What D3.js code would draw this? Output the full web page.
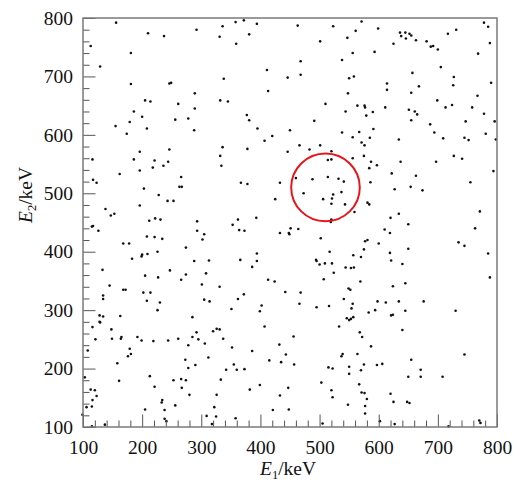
<!DOCTYPE html>
<html><head><meta charset="utf-8">
<script src="https://cdn.jsdelivr.net/npm/d3@7"></script>
<style>
body{margin:0;background:#fff}
svg{display:block;font-family:"Liberation Serif","Times New Roman",Times,serif}
text{font-family:"Liberation Serif","Times New Roman",Times,serif;fill:#111}
</style>
</head><body>
<svg id="chart" width="513" height="482"></svg>
<script>
// E1 (keV), E2 (keV) coincidence events
const hits = [
[156,792],[210,774],[237,769],[292,780],[113,752],[181,740],[129,717],[181,687],[246,688],[249,689],[289,671],[205,659],[214,657],[261,653],[289,645],[186,640],[200,631],[256,626],[278,628],[179,622],[155,615],[208,611],[288,608],[174,602],[196,571],[246,575],
[336,786],[358,793],[372,796],[394,790],[463,787],[523,786],[561,778],[331,768],[381,772],[359,756],[501,760],[547,766],[556,740],[538,728],[468,726],[411,711],[338,696],[446,698],[468,703],[550,697],[558,700],[413,675],[548,671],[332,659],[345,657],[510,653],[564,650],[544,640],[377,634],[381,625],[491,624],[395,611],[450,608],[538,604],[420,598],[407,590],[556,596],[336,579],[378,576],[466,582],[501,582],[446,571],[483,575],[520,572],
[571,794],[599,782],[636,775],[645,775],[652,773],[655,770],[638,769],[646,765],[663,762],[681,760],[717,773],[731,780],[778,792],[785,785],[788,757],[625,756],[688,751],[692,752],[700,746],[593,742],[768,739],[705,716],[657,706],[727,699],[614,688],[668,683],[726,685],[790,689],[614,677],[655,672],[767,667],[576,650],[577,647],[611,647],[699,659],[713,647],[724,651],[758,647],[651,643],[661,640],[665,635],[590,639],[579,633],[778,636],[655,625],[747,623],[796,623],[687,618],[591,610],[567,605],[694,604],[781,602],[585,595],[634,592],[709,594],[745,595],[752,591],[798,592],[571,587],[576,582],
[116,558],[186,558],[221,556],[244,554],[196,539],[218,544],[236,547],[162,533],[266,528],[117,523],[123,518],[203,508],[263,511],[267,511],[228,497],[243,487],[253,487],[196,479],[138,473],[147,462],[153,465],[212,453],[222,457],[231,455],[293,452],[115,443],[117,444],[126,436],[293,436],[305,430],[302,421],[208,426],[221,425],[234,422],[168,414],[178,414],[274,407],[226,400],[209,396],[200,395],[199,392],[183,388],[288,384],[313,385],[133,369],[247,368],[205,359],[227,356],[274,361],[308,363],[266,352],[145,342],[168,335],[172,335],[301,344],
[332,564],[334,547],[514,557],[520,558],[556,560],[460,526],[488,524],[514,528],[532,525],[541,520],[367,518],[378,516],[433,518],[473,500],[537,502],[523,498],[506,490],[521,491],[425,490],[520,482],[543,481],[559,468],[520,455],[519,451],[393,458],[362,455],[353,446],[364,437],[373,436],[451,440],[464,439],[433,432],[448,432],[449,430],[502,423],[517,400],[557,394],[394,397],[366,386],[394,384],[386,374],[494,386],[495,384],[500,378],[509,380],[521,380],[544,373],[553,372],[558,373],[524,364],[507,353],[413,352],[424,349],[331,340],[549,337],[552,335],
[575,564],[587,554],[597,548],[584,543],[637,554],[697,554],[727,564],[741,559],[794,538],[622,534],[663,530],[586,519],[654,511],[627,507],[674,505],[755,519],[581,484],[584,481],[771,469],[634,465],[620,458],[650,447],[610,438],[619,432],[763,440],[577,418],[581,420],[600,414],[735,416],[745,410],[575,404],[650,405],[570,391],[619,398],[785,397],[621,385],[640,379],[788,356],[569,349],[624,341],[645,346],
[134,325],[134,319],[202,330],[214,330],[208,316],[230,313],[226,300],[305,318],[314,315],[128,291],[134,289],[163,290],[128,280],[129,279],[116,271],[148,267],[285,288],[292,262],[320,264],[326,268],[331,267],[121,250],[149,251],[164,251],[165,254],[192,254],[199,248],[219,247],[244,248],[261,251],[285,254],[295,250],[306,243],[278,240],[108,231],[179,234],[181,225],[176,221],[273,215],[312,219],[158,209],[278,201],[290,206],[103,185],[161,179],[213,187],[221,169],[253,180],[266,182],[274,180],[267,167],[113,164],[120,163],[123,153],[116,146],[280,155],[326,155],[234,146],[233,142],[106,134],[115,135],[256,137],[322,134],[205,130],[238,129],[99,121],[309,119],[325,118],[238,114],[241,110],[115,101],[137,104],[318,105],
[442,331],[468,330],[372,327],[362,319],[402,308],[399,298],[351,302],[466,311],[495,305],[516,307],[541,319],[556,311],[554,303],[546,286],[550,283],[553,285],[557,288],[407,272],[533,272],[337,251],[456,255],[352,236],[432,241],[386,230],[443,224],[537,221],[539,225],[415,214],[435,211],[457,207],[355,207],[342,198],[360,198],[373,199],[515,202],[522,200],[550,203],[550,191],[333,181],[503,176],[399,172],[382,164],[447,167],[433,154],[520,163],[522,151],[548,138],[421,129],[448,130],[358,115],[505,106],
[598,315],[612,313],[634,315],[676,315],[594,300],[583,296],[645,299],[621,291],[624,292],[730,299],[640,266],[568,262],[572,254],[587,238],[564,225],[745,224],[655,215],[575,207],[597,206],[606,208],[570,197],[671,198],[650,186],[671,186],[708,186],[567,173],[571,159],[576,158],[620,157],[580,148],[625,143],[648,143],[652,141],[577,136],[577,123],[602,110],[627,105],[718,101],[770,111],[772,107]
];
const majorTicks = [100,200,300,400,500,600,700,800];
const minorTicks = d3.range(100,801,20).filter(v => v % 100 !== 0);
const roiCenter = [510,510];   // keV
const roiRadius = 58;          // keV
const xTitle = ["E","1","/keV"];
const yTitle = ["E","2","/keV"];

const FONT = "'Liberation Serif','Times New Roman',Times,serif";
const svg = d3.select("#chart");
const L=83,T=18,R=497,B=427;
const x = d3.scaleLinear().domain([100,800]).range([L,R]);
const y = d3.scaleLinear().domain([100,800]).range([B,T]);

// points
svg.append("g").selectAll("circle").data(hits).join("circle")
  .attr("cx",d=>x(d[0])).attr("cy",d=>y(d[1])).attr("r",1.3).attr("fill","#111");

// ROI circle
svg.append("ellipse")
  .attr("cx",x(roiCenter[0])).attr("cy",y(roiCenter[1]))
  .attr("rx",x(roiCenter[0]+roiRadius)-x(roiCenter[0]))
  .attr("ry",y(roiCenter[1])-y(roiCenter[1]+roiRadius))
  .attr("fill","none").attr("stroke","#e8141a").attr("stroke-width",2);

function styleAxis(g){
  g.attr("font-family",FONT);
  g.select(".domain").remove();
  g.selectAll(".tick line").attr("stroke","#555").attr("stroke-width",1);
  g.selectAll("text").attr("font-size",19.5).attr("fill","#111").attr("font-family",FONT);
}
// x axis
svg.append("g").attr("transform",`translate(0,${B})`)
  .call(d3.axisBottom(x).tickValues(minorTicks).tickSizeInner(-6.5).tickSizeOuter(0).tickFormat(""))
  .call(styleAxis);
svg.append("g").attr("transform",`translate(0,${B})`)
  .call(d3.axisBottom(x).tickValues(majorTicks).tickSizeInner(-12.5).tickSizeOuter(0).tickPadding(13).tickFormat(d3.format("d")))
  .call(styleAxis);
// y axis
svg.append("g").attr("transform",`translate(${L},0)`)
  .call(d3.axisLeft(y).tickValues(minorTicks).tickSizeInner(-6.5).tickSizeOuter(0).tickFormat(""))
  .call(styleAxis);
svg.append("g").attr("transform",`translate(${L},0)`)
  .call(d3.axisLeft(y).tickValues(majorTicks).tickSizeInner(-12.5).tickSizeOuter(0).tickPadding(10).tickFormat(d3.format("d")))
  .call(styleAxis);

// frame
svg.append("rect").attr("x",L).attr("y",T).attr("width",R-L).attr("height",B-T)
  .attr("fill","none").attr("stroke","#7a7a7a").attr("stroke-width",1.5);

function title(sel, parts){
  sel.append("tspan").attr("font-style","italic").text(parts[0]);
  sel.append("tspan").attr("font-size",12.5).attr("dy",4).text(parts[1]);
  sel.append("tspan").attr("dy",-4).text(parts[2]);
}
svg.append("text").attr("x",(L+R)/2 - 2).attr("y",475).attr("text-anchor","middle")
  .attr("font-family",FONT).attr("font-size",19.5).call(title,xTitle);
svg.append("text").attr("transform","translate(32,195) rotate(-90)").attr("text-anchor","middle")
  .attr("font-family",FONT).attr("font-size",19.5).call(title,yTitle);
</script>
</body></html>
